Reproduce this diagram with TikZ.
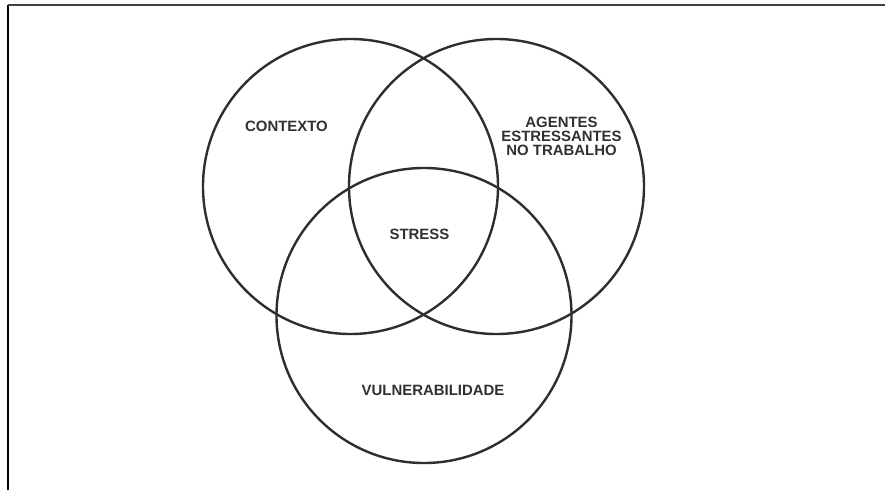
\documentclass[tikz,border=0pt]{standalone}
\usepackage{fontspec}
\setmainfont{Liberation Sans}
\definecolor{ink}{HTML}{2E2E2E}
\definecolor{txt}{HTML}{303030}
\begin{document}
\begin{tikzpicture}[x=0.75pt,y=-0.75pt,
  ring/.style={draw=ink,line width=1.8pt},
  lbl/.style={text=txt,font=\fontsize{11.2}{10.4}\selectfont\bfseries,align=center,inner sep=0pt}]
\useasboundingbox (0,0) rectangle (885,490);
\draw[line width=1.5pt,black] (7.5,490) -- (7.5,4.5);
\draw[line width=1.5pt,black!75] (7.5,4.5) -- (885,4.5);
\node[circle,ring,minimum size=295*0.75pt,inner sep=0pt] (ctx) at (350.5,186.5) {};
\node[circle,ring,minimum size=295*0.75pt,inner sep=0pt] (age) at (496.5,186.5) {};
\node[circle,ring,minimum size=295*0.75pt,inner sep=0pt] (vul) at (424,315.5) {};
\node[lbl] (tctx) at (286.5,126) {CONTEXTO};
\node[lbl] (tage) at (561.5,136.5) {AGENTES\\ESTRESSANTES\\NO TRABALHO};
\node[lbl] (tstr) at (419.5,234) {STRESS};
\node[lbl] (tvul) at (433,390) {VULNERABILIDADE};
\end{tikzpicture}
\end{document}
